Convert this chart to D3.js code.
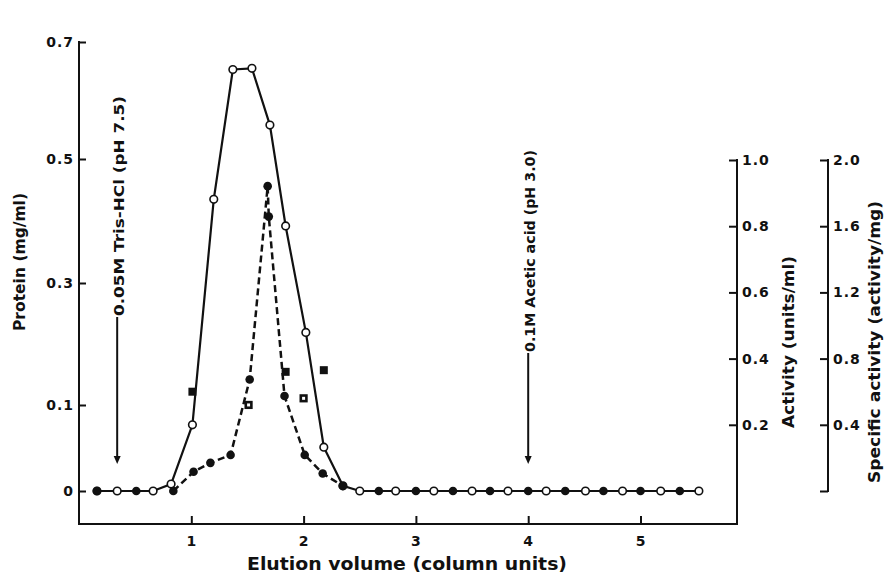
<!DOCTYPE html>
<html>
<head>
<meta charset="utf-8">
<script src="https://cdn.jsdelivr.net/npm/d3@7"></script>
<style>
  body { margin: 0; background: #fff; }
  text { font-family: "DejaVu Sans", "Liberation Sans", sans-serif; font-weight: bold; fill: #111; }
</style>
</head>
<body>
<div id="chart"></div>
<script>
// values (x in column units)
const proteinX = [0.16, 0.34, 0.66, 0.82, 1.01, 1.20, 1.37, 1.54, 1.70, 1.84, 2.02, 2.18, 2.35, 2.50, 2.82, 3.16, 3.50, 3.82, 4.16, 4.51, 4.84, 5.18, 5.52];
const proteinY = [0, 0, 0, 0.008, 0.077, 0.435, 0.653, 0.655, 0.558, 0.392, 0.219, 0.051, 0.006, 0, 0, 0, 0, 0, 0, 0, 0, 0, 0];

const activityX = [0.16, 0.51, 0.84, 1.02, 1.17, 1.35, 1.52, 1.68, 1.69, 1.83, 2.01, 2.17, 2.35, 2.67, 3.00, 3.33, 3.66, 4.00, 4.33, 4.67, 5.00, 5.35];
const activityY = [0, 0, 0, 0.058, 0.085, 0.109, 0.337, 0.921, 0.829, 0.287, 0.109, 0.053, 0.015, 0, 0, 0, 0, 0, 0, 0, 0, 0];

// specific activity: filled and open squares
const specFilledX = [1.01, 1.84, 2.18];
const specFilledY = [0.60, 0.72, 0.73];
const specOpenX = [1.51, 2.00];
const specOpenY = [0.52, 0.56];

const xTicks = [1, 2, 3, 4, 5];
const proteinTicks = [0, 0.1, 0.3, 0.5, 0.7];
const activityTicks = [0.2, 0.4, 0.6, 0.8, 1.0];
const specTicks = [0, 0.4, 0.8, 1.2, 1.6, 2.0];

const bufferLabels = ["0.05M Tris-HCl (pH 7.5)", "0.1M Acetic acid (pH 3.0)"];
const bufferX = [0.34, 4.0];

const W = 895, H = 576;

const svg = d3.select("#chart").append("svg")
    .attr("width", W)
    .attr("height", H);

const x = d3.scaleLinear().domain([0, 5]).range([79, 640.5]);
// the protein axis is stretched between 0 and 0.1 in the original
const yProt = d3.scaleLinear().domain([0, 0.1, 0.3, 0.5, 0.7]).range([491, 405, 283, 159, 42]);
const yAct = d3.scaleLinear().domain([0, 1]).range([491, 160]);
const ySpec = d3.scaleLinear().domain([0, 2]).range([491, 160]);

const baseY = 524, actX = 737, specX = 828;
const f1 = d3.format(".1f");

const styleAxis = (g) => {
    g.select(".domain").remove();
    g.selectAll(".tick line").attr("stroke", "#111").attr("stroke-width", 2);
    g.selectAll(".tick text").style("font-size", "14px").style("letter-spacing", "1px")
        .attr("fill", "#111");
};

// axis lines
const axisLine = (x1, y1, x2, y2) => svg.append("line")
    .attr("x1", x1).attr("y1", y1).attr("x2", x2).attr("y2", y2)
    .attr("stroke", "#111").attr("stroke-width", 2).attr("stroke-linecap", "square");

axisLine(x(0), yProt(0.7), x(0), baseY);
axisLine(x(0), baseY, actX, baseY);
axisLine(actX, yAct(1), actX, baseY);
axisLine(specX, ySpec(2), specX, ySpec(0));

svg.append("g").attr("transform", `translate(${x(0)},0)`)
    .call(d3.axisLeft(yProt).tickValues(proteinTicks).tickSize(-7).tickPadding(5)
        .tickFormat(d => d === 0 ? "0" : f1(d)))
    .call(styleAxis);

svg.append("g").attr("transform", `translate(0,${baseY})`)
    .call(d3.axisBottom(x).tickValues(xTicks).tickSize(-8).tickPadding(12).tickFormat(d3.format("d")))
    .call(styleAxis);

svg.append("g").attr("transform", `translate(${actX},0)`)
    .call(d3.axisRight(yAct).tickValues(activityTicks).tickSize(-8).tickPadding(5).tickFormat(f1))
    .call(styleAxis);

svg.append("g").attr("transform", `translate(${specX},0)`)
    .call(d3.axisRight(ySpec).tickValues(specTicks).tickSize(-8).tickPadding(5)
        .tickFormat(d => d === 0 ? "" : f1(d)))
    .call(styleAxis);

// axis titles
const rotLabel = (txt, cx, cy, size, len) => svg.append("text")
    .attr("transform", `translate(${cx},${cy}) rotate(-90)`)
    .attr("text-anchor", "middle")
    .attr("dominant-baseline", "central")
    .style("font-size", size + "px")
    .attr("textLength", len).attr("lengthAdjust", "spacingAndGlyphs")
    .text(txt);

rotLabel("Protein (mg/ml)", 20, 262, 15, 138);
rotLabel("Activity (units/ml)", 789, 342, 15, 172);
rotLabel("Specific activity (activity/mg)", 875, 342, 15, 282);

svg.append("text")
    .attr("x", 407).attr("y", 570)
    .attr("text-anchor", "middle")
    .style("font-size", "17px")
    .attr("textLength", 320).attr("lengthAdjust", "spacingAndGlyphs")
    .text("Elution volume (column units)");

// buffer change arrows
const tipY = 464;
const bufferStart = [316, 352];
const bufferLen = [220, 202];
bufferLabels.forEach((lab, i) => {
    const ax = x(bufferX[i]);
    const startY = bufferStart[i];
    svg.append("text")
        .attr("transform", `translate(${ax + 2},${startY}) rotate(-90)`)
        .attr("dominant-baseline", "central")
        .style("font-size", "14px")
        .attr("textLength", bufferLen[i]).attr("lengthAdjust", "spacingAndGlyphs")
        .text(lab);
    svg.append("line")
        .attr("x1", ax).attr("x2", ax).attr("y1", startY + 1).attr("y2", tipY - 6)
        .attr("stroke", "#111").attr("stroke-width", 2);
    svg.append("path")
        .attr("d", `M${ax - 3.5},${tipY - 8} L${ax + 3.5},${tipY - 8} L${ax},${tipY} Z`)
        .attr("fill", "#111");
});

// data
const protein = proteinX.map((d, i) => [d, proteinY[i]]);
const activity = activityX.map((d, i) => [d, activityY[i]]);

svg.append("path")
    .datum(protein)
    .attr("fill", "none").attr("stroke", "#111").attr("stroke-width", 2.2)
    .attr("d", d3.line().x(d => x(d[0])).y(d => yProt(d[1])));

// dashed activity line only across the peak
const peak = activity.filter(d => d[0] > 0.8 && d[0] < 2.4);
svg.append("path")
    .datum(peak)
    .attr("fill", "none").attr("stroke", "#111").attr("stroke-width", 2.5)
    .attr("stroke-dasharray", "7,4")
    .attr("d", d3.line().x(d => x(d[0])).y(d => yAct(d[1])));

svg.selectAll(".prot").data(protein).join("circle")
    .attr("class", "prot")
    .attr("cx", d => x(d[0])).attr("cy", d => yProt(d[1])).attr("r", 3.8)
    .attr("fill", "#fff").attr("stroke", "#111").attr("stroke-width", 1.6);

svg.selectAll(".act").data(activity).join("circle")
    .attr("class", "act")
    .attr("cx", d => x(d[0])).attr("cy", d => yAct(d[1])).attr("r", 4.3)
    .attr("fill", "#111");

const sq = 8;
svg.selectAll(".specf").data(specFilledX.map((d, i) => [d, specFilledY[i]])).join("rect")
    .attr("class", "specf")
    .attr("x", d => x(d[0]) - sq / 2).attr("y", d => ySpec(d[1]) - sq / 2)
    .attr("width", sq).attr("height", sq).attr("fill", "#111");

svg.selectAll(".speco").data(specOpenX.map((d, i) => [d, specOpenY[i]])).join("rect")
    .attr("class", "speco")
    .attr("x", d => x(d[0]) - sq / 2 + 1.2).attr("y", d => ySpec(d[1]) - sq / 2 + 1.2)
    .attr("width", sq - 2.4).attr("height", sq - 2.4)
    .attr("fill", "#fff").attr("stroke", "#111").attr("stroke-width", 2.6);
</script>
</body>
</html>
